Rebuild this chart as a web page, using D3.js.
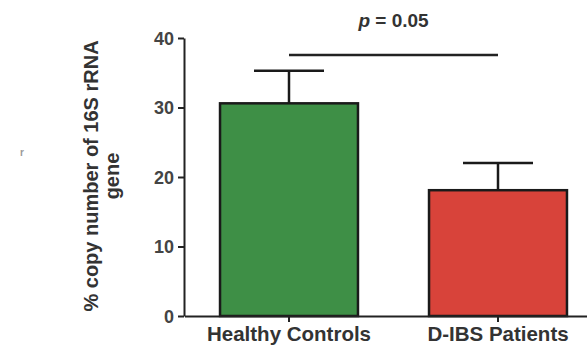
<!DOCTYPE html>
<html><head><meta charset="utf-8">
<script src="https://cdn.jsdelivr.net/npm/d3@7"></script>
<style>body{margin:0;background:#fff}svg{display:block}text{font-family:"Liberation Sans",Arial,sans-serif;font-weight:bold}</style>
</head><body><svg id="c" width="587" height="346"></svg>
<script>
const categories = ["Healthy Controls", "D-IBS Patients"];
const means = [30.6, 18.1];
const errors = [4.7, 3.9];
const colors = ["#3e8f46", "#d8433a"];
const yTicks = [0, 10, 20, 30, 40];
const pLabel = "0.05";

const svg = d3.select("#c");
const y = d3.scaleLinear().domain([0, 40]).range([316, 38]);
const x = d3.scaleBand().domain(categories).range([184.5, 602.5]).paddingInner(0.34).paddingOuter(0.17);

// y axis
const ya = svg.append("g").attr("transform", "translate(184,0)")
  .call(d3.axisLeft(y).tickValues(yTicks).tickSize(6).tickSizeOuter(0));
ya.select(".domain").attr("stroke", "#222").attr("stroke-width", 2);
ya.selectAll(".tick line").attr("stroke", "#222").attr("stroke-width", 2);
ya.selectAll(".tick text").attr("fill", "#444").attr("font-size", 18).attr("x", -10).attr("dy", "0.36em");

// bars
svg.selectAll("rect.bar").data(categories).join("rect").attr("class", "bar")
  .attr("x", d => x(d)).attr("width", x.bandwidth())
  .attr("y", (d, i) => y(means[i])).attr("height", (d, i) => y(0) - y(means[i]))
  .attr("fill", (d, i) => colors[i]).attr("stroke", "#1a1a1a").attr("stroke-width", 2.5);

// error bars
categories.forEach((c, i) => {
  const cx = x(c) + x.bandwidth() / 2;
  svg.append("line").attr("x1", cx).attr("x2", cx).attr("y1", y(means[i])).attr("y2", y(means[i] + errors[i]))
    .attr("stroke", "#1a1a1a").attr("stroke-width", 2.5);
  svg.append("line").attr("x1", cx - 35).attr("x2", cx + 35).attr("y1", y(means[i] + errors[i])).attr("y2", y(means[i] + errors[i]))
    .attr("stroke", "#1a1a1a").attr("stroke-width", 2.5);
});

// x axis
const xa = svg.append("g").attr("transform", "translate(0,316)")
  .call(d3.axisBottom(x).tickSize(6).tickSizeOuter(0));
xa.select(".domain").attr("stroke", "#222").attr("stroke-width", 2);
xa.selectAll(".tick line").attr("stroke", "#222").attr("stroke-width", 2);
xa.selectAll(".tick text").attr("fill", "#333").attr("font-size", 20.5).attr("y", 25).attr("dy", 0);

// significance
const c0 = x(categories[0]) + x.bandwidth() / 2, c1 = x(categories[1]) + x.bandwidth() / 2;
svg.append("line").attr("x1", c0).attr("x2", c1).attr("y1", 55).attr("y2", 55).attr("stroke", "#222").attr("stroke-width", 2.5);
const pt = svg.append("text").attr("x", (c0 + c1) / 2).attr("y", 27).attr("text-anchor", "middle").attr("font-size", 19).attr("fill", "#333");
pt.append("tspan").attr("font-style", "italic").text("p");
pt.append("tspan").text(" = " + pLabel);

// y label
const yl = svg.append("text").attr("transform", "translate(98,176) rotate(-90)").attr("text-anchor", "middle").attr("font-size", 20).attr("fill", "#333");
yl.append("tspan").attr("x", 0).attr("dy", 0).text("% copy number of 16S rRNA");
yl.append("tspan").attr("x", 0).attr("dy", 21).text("gene");

// stray mark
svg.append("text").attr("x", 20).attr("y", 156).attr("font-size", 10).attr("fill", "#999").attr("font-weight", "normal").text("r");
</script></body></html>
